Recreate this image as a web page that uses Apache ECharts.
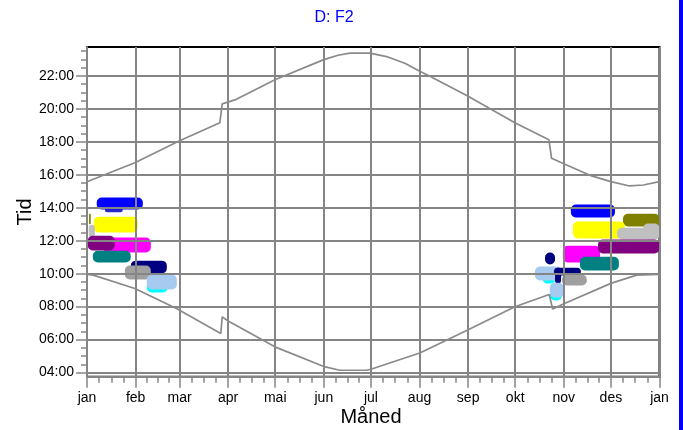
<!DOCTYPE html>
<html>
<head>
<meta charset="utf-8">
<script src="https://cdn.jsdelivr.net/npm/echarts@6/dist/echarts.min.js"></script>
<style>
  html, body { margin: 0; padding: 0; background: #ffffff; }
  #chart { width: 683px; height: 430px; }
</style>
</head>
<body>
<div id="chart"></div>
<script>
// Month axis (day of year)
const monthNames = ['jan', 'feb', 'mar', 'apr', 'mai', 'jun', 'jul', 'aug', 'sep', 'okt', 'nov', 'des', 'jan'];
const monthStarts = [0, 31, 59, 90, 120, 151, 181, 212, 243, 273, 304, 334, 365];

// Time-of-day axis (hours)
const hourTicks = [4, 6, 8, 10, 12, 14, 16, 18, 20, 22];

// Sunset over the year
const sunsetDays  = [0, 30.5, 58.7, 84.7, 86.2, 94.3, 119.8, 150.6, 160, 167.6, 180.4, 191, 203, 211.8, 218, 242.4, 272.8, 294.5, 296.2, 303.3, 321.7, 334, 346, 354.7, 365];
const sunsetHours = [15.58, 16.73, 18.05, 19.16, 20.30, 20.54, 21.76, 22.97, 23.25, 23.38, 23.38, 23.17, 22.75, 22.3, 22.0, 20.79, 19.16, 18.12, 17.0, 16.7, 15.93, 15.58, 15.32, 15.38, 15.58];

// Sunrise over the year
const sunriseDays  = [0, 4, 30.5, 57, 85.3, 86.2, 90, 119.8, 150.6, 161.2, 178.3, 181, 205.9, 212.2, 242.4, 272.8, 294.7, 296.9, 303.3, 334, 350.4, 365];
const sunriseHours = [9.95, 9.91, 9.10, 7.89, 6.37, 7.38, 7.13, 5.56, 4.38, 4.14, 4.14, 4.2, 4.99, 5.19, 6.57, 7.99, 8.74, 7.85, 8.15, 9.41, 9.91, 9.95];

// Shadow periods: receptor, first/last day, start/end hour
const patchKind = [
  'blue2', 'blue', 'yellow', 'olive', 'silver', 'magenta', 'purple', 'teal', 'navy', 'grey', 'cyan', 'lightblue',
  'blue', 'olive', 'yellow', 'silver', 'silver', 'magenta', 'purple', 'teal', 'navy',
  'cyan', 'lightblue', 'navy', 'navy', 'grey', 'cyan', 'lightblue'
];
const patchFrom = [
  11.4, 6.2, 4.3, 1.3, 1.1, 10.1, 0.5, 3.7, 27.9, 24.1, 38.1, 38.1,
  308.5, 341.7, 309.8, 337.9, 354.5, 303.4, 325.8, 314.3, 292.0,
  290.7, 285.6, 297.7, 298.4, 302.8, 295.1, 295.1
];
const patchTo = [
  22.8, 35.6, 32.4, 2.4, 5.0, 40.7, 17.7, 27.9, 50.9, 40.7, 51.5, 57.3,
  336.6, 365, 343.0, 365, 365, 327.1, 365, 339.1, 298.4,
  298.4, 302.8, 314.9, 302.2, 318.7, 302.8, 304.0
];
const patchLow = [
  13.72, 13.90, 12.50, 13.00, 12.20, 11.29, 11.41, 10.68, 10.01, 9.65, 8.86, 9.04,
  13.41, 12.86, 12.14, 12.08, 12.08, 10.68, 11.23, 10.19, 10.56,
  9.41, 9.59, 9.89, 9.41, 9.28, 8.37, 8.55
];
const patchHigh = [
  14.00, 14.62, 13.46, 13.64, 12.97, 12.19, 12.30, 11.39, 10.79, 10.49, 9.51, 9.94,
  14.19, 13.64, 13.16, 12.79, 13.04, 11.70, 12.07, 11.03, 11.28,
  9.87, 10.43, 10.36, 10.36, 9.94, 9.02, 9.45
];

const palette = {
  blue: '#0000ff', blue2: '#2828c8', yellow: '#ffff00', olive: '#808000', silver: '#c0c0c0',
  magenta: '#ff00ff', purple: '#800080', teal: '#008080', navy: '#000080', grey: '#a0a0a0',
  cyan: '#00ffff', lightblue: '#a6caf0'
};

const FONT = "'Liberation Sans', Arial, sans-serif";
const GRID_GREY = '#858585';

// Quarter-month minor ticks on the month axis
const monthMinor = [];
for (let i = 0; i < 12; i++) {
  const len = monthStarts[i + 1] - monthStarts[i];
  for (let k = 1; k < 4; k++) monthMinor.push(monthStarts[i] + len * k / 4);
}
// Half-hour minor ticks on the time axis
const hourMinor = [];
for (let h = 4; h <= 23.5; h += 0.5) hourMinor.push(h);

const chart = echarts.init(document.getElementById('chart'), null, { renderer: 'canvas' });

const patchData = patchKind.map((k, i) => ({
  value: [patchFrom[i], patchTo[i], patchLow[i], patchHigh[i]],
  itemStyle: { color: palette[k] }
}));

const pad = v => (v < 10 ? '0' : '') + v + ':00';

chart.setOption({
  animation: false,
  backgroundColor: '#ffffff',
  grid: {
    left: 87, right: 23.5, top: 47, bottom: 53.3,
    show: true, borderColor: '#000000', borderWidth: 2, backgroundColor: 'transparent'
  },
  xAxis: [
    {
      type: 'value', min: 0, max: 365, position: 'bottom', z: 3,
      axisLine: { show: true, onZero: false, lineStyle: { color: GRID_GREY, width: 2 } },
      axisTick: { show: true, customValues: monthStarts, length: 11, lineStyle: { color: GRID_GREY, width: 1.5 } },
      axisLabel: {
        customValues: monthStarts, margin: 14, color: '#000', fontFamily: FONT, fontSize: 14,
        formatter: v => monthNames[monthStarts.indexOf(Math.round(v))] || ''
      },
      splitLine: { show: true, lineStyle: { color: GRID_GREY, width: 2 } }
    },
    {
      type: 'value', min: 0, max: 365, position: 'bottom', z: 3,
      axisLine: { show: false },
      axisTick: { show: true, customValues: monthMinor, length: 6, lineStyle: { color: GRID_GREY, width: 1.5 } },
      axisLabel: { show: false },
      splitLine: { show: false }
    }
  ],
  yAxis: [
    {
      type: 'value', min: 3.75, max: 23.75, position: 'left', z: 3,
      axisLine: { show: true, onZero: false, lineStyle: { color: GRID_GREY, width: 2 } },
      axisTick: { show: true, customValues: hourTicks, length: 11, lineStyle: { color: GRID_GREY, width: 1.5 } },
      axisLabel: {
        customValues: hourTicks, margin: 13, color: '#000', fontFamily: FONT, fontSize: 14,
        formatter: v => pad(Math.round(v))
      },
      splitLine: { show: true, lineStyle: { color: GRID_GREY, width: 2 } }
    },
    {
      type: 'value', min: 3.75, max: 23.75, position: 'left', z: 3,
      axisLine: { show: false },
      axisTick: { show: true, customValues: hourMinor, length: 6, lineStyle: { color: GRID_GREY, width: 1.5 } },
      axisLabel: { show: false },
      splitLine: { show: false }
    }
  ],
  series: [
    {
      type: 'custom', name: 'skygge', xAxisIndex: 0, yAxisIndex: 0, z: 1,
      data: patchData,
      encode: { x: [0, 1], y: [2, 3] },
      renderItem: (params, api) => {
        const tl = api.coord([api.value(0), api.value(3)]);
        const br = api.coord([api.value(1), api.value(2)]);
        const w = br[0] - tl[0], h = br[1] - tl[1];
        return {
          type: 'rect',
          shape: { x: tl[0], y: tl[1], width: w, height: h, r: Math.min(5, w / 2, h / 2) },
          style: { fill: api.visual('color') }
        };
      }
    },
    {
      type: 'line', name: 'solnedgang', xAxisIndex: 0, yAxisIndex: 0, z: 4,
      showSymbol: false, silent: true,
      data: sunsetDays.map((d, i) => [d, sunsetHours[i]]),
      lineStyle: { color: '#8a8a8a', width: 1.7 }
    },
    {
      type: 'line', name: 'soloppgang', xAxisIndex: 0, yAxisIndex: 0, z: 4,
      showSymbol: false, silent: true,
      data: sunriseDays.map((d, i) => [d, sunriseHours[i]]),
      lineStyle: { color: '#8a8a8a', width: 1.7 }
    }
  ],
  graphic: [
    {
      type: 'text', x: 334, y: 18, z: 10,
      style: { text: 'D: F2', fill: '#0000ff', font: '16px ' + FONT, textAlign: 'center', textVerticalAlign: 'middle' }
    },
    {
      type: 'text', x: 371, y: 417, z: 10,
      style: { text: 'Måned', fill: '#000', font: '20px ' + FONT, textAlign: 'center', textVerticalAlign: 'middle' }
    },
    {
      type: 'text', x: 25, y: 212, rotation: Math.PI / 2, z: 10,
      style: { text: 'Tid', fill: '#000', font: '20px ' + FONT, textAlign: 'center', textVerticalAlign: 'middle' }
    },
    {
      type: 'rect', shape: { x: 679, y: 0, width: 4, height: 430 }, z: 10,
      style: { fill: '#0000ff' }
    }
  ]
});
</script>
</body>
</html>
